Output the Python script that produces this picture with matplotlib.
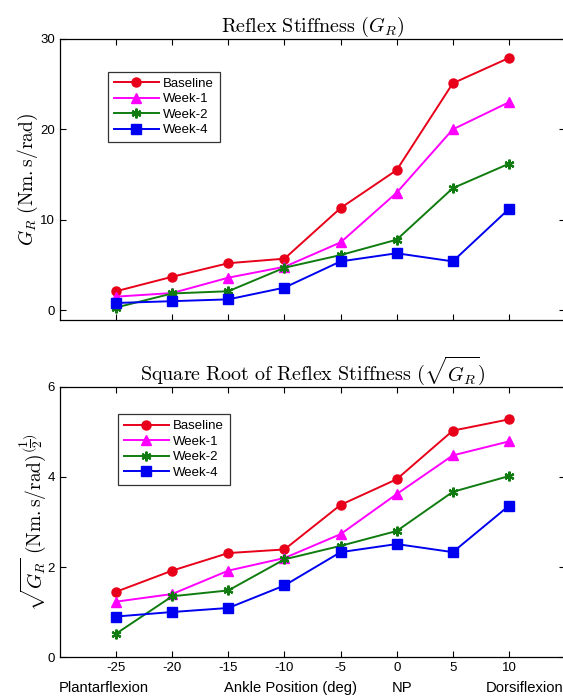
import matplotlib
matplotlib.use('Agg')
import matplotlib.pyplot as plt

plt.rcParams['font.family'] = ['Liberation Sans', 'DejaVu Sans']
plt.rcParams['mathtext.fontset'] = 'cm'
plt.rcParams['axes.unicode_minus'] = False

angles = [-25, -20, -15, -10, -5, 0, 5, 10]
labels = ['Baseline', 'Week-1', 'Week-2', 'Week-4']

# reflex stiffness G_R
gr_baseline = [2.1, 3.7, 5.2, 5.7, 11.3, 15.5, 25.1, 27.9]
gr_week1 = [1.5, 1.9, 3.6, 4.8, 7.5, 13.0, 20.0, 23.0]
gr_week2 = [0.3, 1.85, 2.1, 4.7, 6.1, 7.8, 13.5, 16.2]
gr_week4 = [0.8, 1.0, 1.2, 2.5, 5.4, 6.3, 5.4, 11.2]

# square root of G_R
sq_baseline = [1.45, 1.92, 2.31, 2.39, 3.38, 3.95, 5.03, 5.28]
sq_week1 = [1.23, 1.40, 1.92, 2.20, 2.73, 3.62, 4.48, 4.79]
sq_week2 = [0.52, 1.35, 1.48, 2.17, 2.47, 2.80, 3.67, 4.02]
sq_week4 = [0.90, 1.00, 1.09, 1.59, 2.33, 2.51, 2.33, 3.36]

styles = [
    dict(color='#e8001a', marker='o', ms=6.5),
    dict(color='#ff00ff', marker='^', ms=7.5),
    dict(color='#107c10', marker=(6, 2, 0), ms=7, mew=1.6),
    dict(color='#0000f0', marker='s', ms=7.5),
]

fig = plt.figure(figsize=(5.63, 6.96), dpi=100)
ax1 = fig.add_axes([0.1066, 0.540, 0.897, 0.404])
ax2 = fig.add_axes([0.1066, 0.056, 0.897, 0.388])


def draw(ax, series, legend_pos):
    for ys, lab, st in zip(series, labels, styles):
        ax.plot(angles, ys, lw=1.4, label=lab, **st)
    ax.set_xlim(-30, 15)
    ax.set_xticks(angles)
    ax.tick_params(direction='in', top=True, right=True, length=4, labelsize=9.5)
    for s in ax.spines.values():
        s.set_linewidth(0.9)
    leg = ax.legend(loc='upper left', bbox_to_anchor=legend_pos,
                    bbox_transform=fig.transFigure, fontsize=9.5,
                    handlelength=3.4, borderpad=0.45, labelspacing=0.25,
                    handletextpad=0.3, borderaxespad=0, fancybox=False)
    leg.get_frame().set_edgecolor('black')
    leg.get_frame().set_linewidth(0.9)


draw(ax1, [gr_baseline, gr_week1, gr_week2, gr_week4], (0.192, 0.897))
ax1.set_ylim(-1.1, 30)
ax1.set_yticks([0, 10, 20, 30])
ax1.set_xticklabels([])
ax1.set_title(r'$\mathrm{Reflex\ Stiffness}\ (G_R)$', fontsize=14.5, pad=5)
ax1.set_ylabel(r'$G_R\ (\mathrm{Nm.s/rad})$', fontsize=14, labelpad=0)

draw(ax2, [sq_baseline, sq_week1, sq_week2, sq_week4], (0.2096, 0.405))
ax2.set_ylim(0, 6)
ax2.set_yticks([0, 2, 4, 6])
ax2.set_title(r'$\mathrm{Square\ Root\ of\ Reflex\ Stiffness}\ (\sqrt{G_R})$',
              fontsize=14.5, pad=5)
ax2.set_ylabel(r'$\sqrt{G_R}\ (\mathrm{Nm.s/rad})^{(\dfrac{1}{2})}$',
               fontsize=14, labelpad=0)

# secondary x labels under the bottom axis
for txt, xpx, ha in [('Plantarflexion', 104, 'center'),
                     ('Ankle Position (deg)', 290, 'center'),
                     ('NP', 402, 'center'), ('Dorsiflexion', 486, 'left')]:
    fig.text(xpx / 563, 1 - 688 / 696, txt, ha=ha, va='center', fontsize=10.6)

fig.savefig('out.png', dpi=100)
